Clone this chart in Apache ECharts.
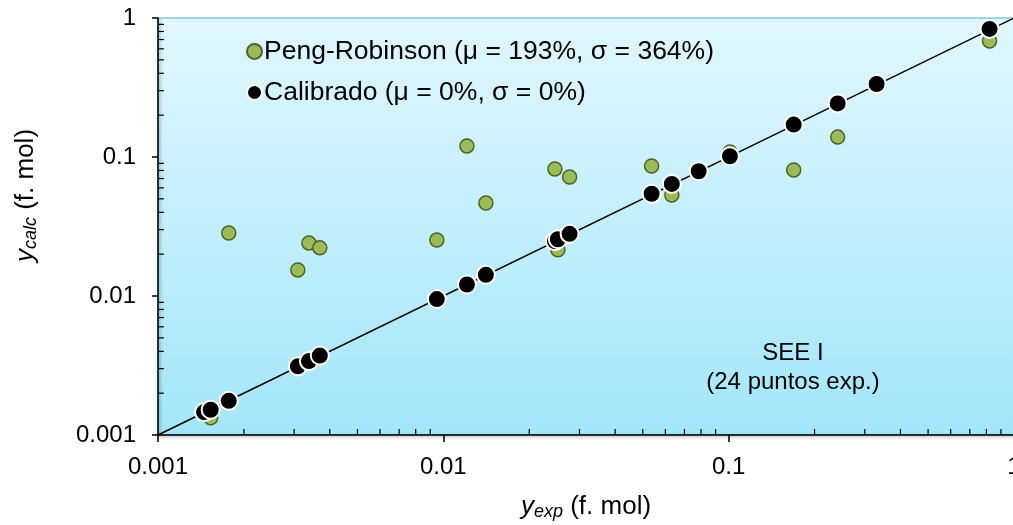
<!DOCTYPE html>
<html>
<head>
<meta charset="utf-8">
<script src="https://cdn.jsdelivr.net/npm/echarts@6/dist/echarts.min.js"></script>
<style>
  html, body { margin: 0; padding: 0; background: #ffffff; }
  #chart { width: 1013px; height: 525px; }
</style>
</head>
<body>
<div id="chart"></div>
<script>
// Experimental mole fractions (x) and calculated values for each model
const yExp = [0.00145, 0.00153, 0.00177, 0.00309, 0.00338, 0.00369, 0.00949, 0.0121, 0.0141,
              0.0246, 0.0252, 0.0277, 0.0537, 0.0632, 0.0785, 0.101, 0.169, 0.241, 0.330, 0.821];
const yPengRobinson = [0.00145, 0.00133, 0.0284, 0.0154, 0.0241, 0.0222, 0.0253, 0.120, 0.0467,
                       0.0820, 0.0215, 0.0718, 0.0862, 0.0533, 0.0785, 0.1086, 0.0806, 0.139, 0.330, 0.683];
const yCalibrado = [0.00146, 0.00152, 0.00176, 0.00312, 0.00340, 0.00373, 0.00950, 0.0121, 0.0142,
                    0.0248, 0.0256, 0.0280, 0.0544, 0.0640, 0.0790, 0.1012, 0.171, 0.243, 0.335, 0.835];
const tickLabels = ['0.001', '0.01', '0.1', '1'];
const axisMin = 0.001, axisMax = 1;
const seriesNames = ['Peng-Robinson (\u03bc = 193%, \u03c3 = 364%)', 'Calibrado (\u03bc = 0%, \u03c3 = 0%)'];
const noteLines = ['SEE I', '(24 puntos exp.)'];

const FONT = 'Liberation Sans, Arial, sans-serif';

// minor tick positions 2..9 within each decade
const minorVals = [];
for (let d = axisMin; d < axisMax * 0.999; d *= 10) {
  for (let k = 2; k <= 9; k++) minorVals.push(+(d * k).toPrecision(3));
}

const chart = echarts.init(document.getElementById('chart'), null, { renderer: 'canvas' });

const axisLineStyle = {
  color: '#000', width: 1.5,
  shadowColor: 'rgba(0,0,0,0.35)', shadowBlur: 3, shadowOffsetX: 1.5, shadowOffsetY: 1.5
};

const nameRich = {
  i: { fontStyle: 'italic', fontSize: 26, fontFamily: FONT, color: '#000' },
  s: { fontStyle: 'italic', fontSize: 18, fontFamily: FONT, color: '#000', padding: [10, 0, 0, 0] },
  n: { fontSize: 26, fontFamily: FONT, color: '#000' }
};

chart.setOption({
  animation: false,
  grid: {
    left: 158, top: 18, width: 856, height: 417,
    outerBoundsMode: 'none',
    containLabel: false,
    show: true,
    borderColor: '#4fb0c9', borderWidth: 1,
    backgroundColor: {
      type: 'linear', x: 0, y: 0, x2: 0, y2: 1,
      colorStops: [{ offset: 0, color: '#e1f7fe' }, { offset: 1, color: '#a3e6fa' }]
    }
  },
  legend: {
    data: seriesNames,
    orient: 'vertical',
    left: 241, top: 33,
    itemGap: 14,
    itemWidth: 15, itemHeight: 15,
    icon: 'circle',
    textStyle: { fontFamily: FONT, fontSize: 26.5, color: '#000', padding: [0, 0, 0, -3] }
  },
  xAxis: {
    type: 'log', logBase: 10, min: axisMin, max: axisMax,
    name: '{i|y}{s|exp}{n| (f. mol)}',
    nameLocation: 'middle', nameGap: 58,
    nameTextStyle: { rich: nameRich },
    axisLine: { lineStyle: axisLineStyle },
    axisTick: { inside: false, length: 7, lineStyle: { color: '#000', width: 1.5 } },
    axisLabel: {
      margin: 20, fontFamily: FONT, fontSize: 24, color: '#000',
      formatter: (v, i) => tickLabels[i]
    },
    splitLine: { show: false }
  },
  yAxis: {
    type: 'log', logBase: 10, min: axisMin, max: axisMax,
    name: '{i|y}{s|calc}{n| (f. mol)}',
    nameLocation: 'middle', nameGap: 118, nameRotate: 90,
    nameTextStyle: { rich: nameRich, padding: [0, 0, 0, 62] },
    axisLine: { lineStyle: axisLineStyle },
    axisTick: { inside: false, length: 6, lineStyle: { color: '#000', width: 1.5 } },
    axisLabel: {
      margin: 22, fontFamily: FONT, fontSize: 24, color: '#000',
      formatter: (v, i) => tickLabels[i]
    },
    splitLine: { show: false }
  },
  graphic: noteLines.map((t, i) => ({
    type: 'text', x: 793, y: 353 + i * 29, z: 10,
    style: {
      text: t, textAlign: 'center', textVerticalAlign: 'middle',
      fontFamily: FONT, fontSize: 24, fill: '#000'
    }
  })),
  series: [
    {
      // minor ticks on the x axis, pointing into the plot
      type: 'custom', silent: true, clip: false, z: 5,
      data: minorVals.map(v => [v, axisMin]),
      renderItem: (params, api) => {
        const p = api.coord([api.value(0), api.value(1)]);
        return { type: 'line', shape: { x1: p[0], y1: p[1], x2: p[0], y2: p[1] - 6 },
                 style: { stroke: '#000', lineWidth: 1.2 } };
      }
    },
    {
      // minor ticks on the y axis, pointing into the plot
      type: 'custom', silent: true, clip: false, z: 5,
      data: minorVals.map(v => [axisMin, v]),
      renderItem: (params, api) => {
        const p = api.coord([api.value(0), api.value(1)]);
        return { type: 'line', shape: { x1: p[0], y1: p[1], x2: p[0] + 6, y2: p[1] },
                 style: { stroke: '#000', lineWidth: 1.2 } };
      }
    },
    {
      // y = x reference line
      type: 'line', silent: true, z: 2,
      data: [[axisMin, axisMin], [axisMax, axisMax]],
      symbol: 'none',
      lineStyle: { color: '#000', width: 1.5 }
    },
    {
      name: seriesNames[0], type: 'scatter', z: 3,
      data: yExp.map((x, i) => [x, yPengRobinson[i]]),
      symbol: 'circle', symbolSize: 14,
      itemStyle: { color: '#9bbb59', borderColor: '#4f6228', borderWidth: 1.5, opacity: 1 }
    },
    {
      name: seriesNames[1], type: 'scatter', z: 4,
      data: yExp.map((x, i) => [x, yCalibrado[i]]),
      symbol: 'circle', symbolSize: 18,
      itemStyle: { color: '#000', borderColor: '#fff', borderWidth: 2, opacity: 1 }
    }
  ]
});
</script>
</body>
</html>
